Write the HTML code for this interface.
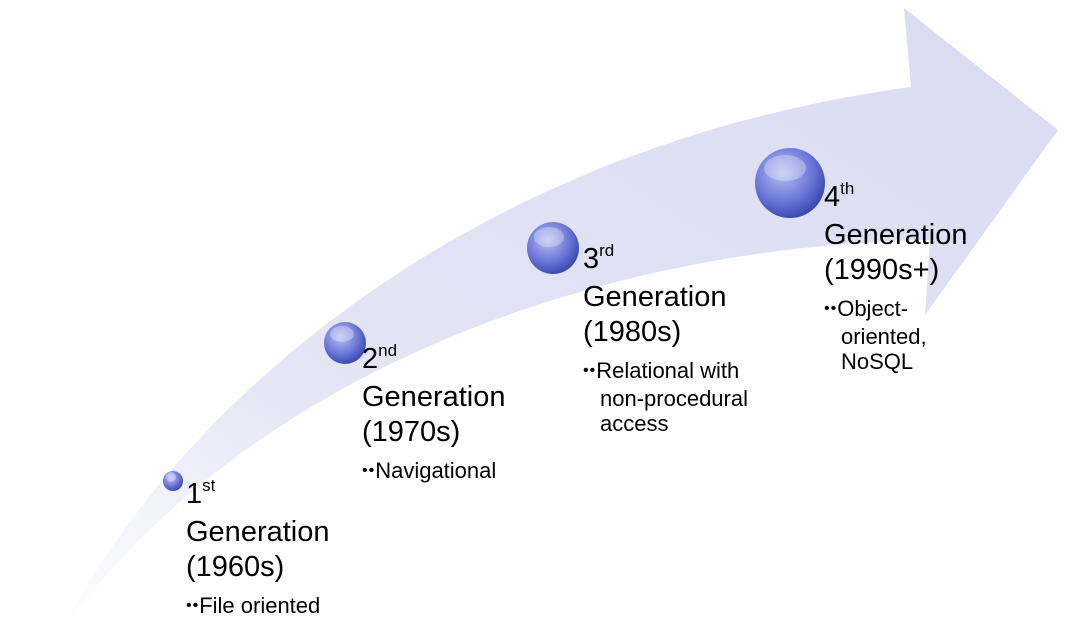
<!DOCTYPE html>
<html><head><meta charset="utf-8"><style>
body{margin:0;background:#fff;}
#wrap{position:relative;width:1082px;height:634px;overflow:hidden;font-family:"Liberation Sans",Arial,sans-serif;color:#000;}
.t{position:absolute;font-size:29px;line-height:35px;white-space:nowrap;}
.t sup{font-size:17px;vertical-align:0;position:relative;top:-12px;}
.b{font-size:22px;line-height:25px;margin-top:8px;}
.b .in{padding-left:17px;}
.d{font-size:16px;position:relative;top:-3px;letter-spacing:1px;}
</style></head><body>
<div id="wrap">
<svg width="1082" height="634" style="position:absolute;left:0;top:0">
<defs>
<linearGradient id="ag" x1="0" y1="1" x2="1" y2="0">
<stop offset="0" stop-color="#ffffff"/>
<stop offset="0.3" stop-color="#e4e6f5"/>
<stop offset="1" stop-color="#d9dcf2"/>
</linearGradient>
<radialGradient id="sg" cx="0.4" cy="0.35" r="0.7">
<stop offset="0" stop-color="#b8c0f0"/>
<stop offset="0.6" stop-color="#6a76d8"/>
<stop offset="1" stop-color="#3442a8"/>
</radialGradient>
</defs>
<path fill="url(#ag)" d="M62,630 C170,420 450,150 911,87 L904,8 L1058,130 L925,315 L930,240 C620,245 260,360 62,630 Z"/>
<g><circle cx="173" cy="481" r="10" fill="url(#sg)"/><circle cx="171" cy="477" r="5" fill="#fff" opacity="0.35"/></g>
<g><circle cx="345" cy="343" r="21" fill="url(#sg)"/><ellipse cx="342" cy="334" rx="12" ry="8" fill="#fff" opacity="0.3"/></g>
<g><circle cx="553" cy="248" r="26" fill="url(#sg)"/><ellipse cx="549" cy="237" rx="15" ry="10" fill="#fff" opacity="0.3"/></g>
<g><circle cx="790" cy="183" r="35" fill="url(#sg)"/><ellipse cx="785" cy="168" rx="21" ry="13" fill="#fff" opacity="0.3"/></g>
</svg>
<div class="t" style="left:186px;top:477px">1<sup>st</sup><br>Generation<br>(1960s)<div class="b"><span class="d">••</span>File oriented</div></div>
<div class="t" style="left:362px;top:342px">2<sup>nd</sup><br>Generation<br>(1970s)<div class="b"><span class="d">••</span>Navigational</div></div>
<div class="t" style="left:583px;top:242px">3<sup>rd</sup><br>Generation<br>(1980s)<div class="b"><span class="d">••</span>Relational with<br><span class="in">non-procedural</span><br><span class="in">access</span></div></div>
<div class="t" style="left:824px;top:180px">4<sup>th</sup><br>Generation<br>(1990s+)<div class="b"><span class="d">••</span>Object-<br><span class="in">oriented,</span><br><span class="in">NoSQL</span></div></div>
</div>
</body></html>
